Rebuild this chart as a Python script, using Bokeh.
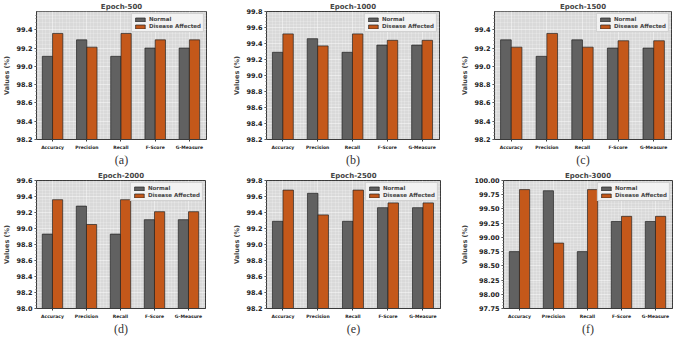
import numpy as np
from bokeh.plotting import figure
from bokeh.layouts import column, row
from bokeh.models import Range1d, FixedTicker, NumeralTickFormatter, Legend, LegendItem
from bokeh.embed import file_html
from bokeh.resources import INLINE

categories = ["Accuracy", "Precision", "Recall", "F-Score", "G-Measure"]
series_names = ["Normal", "Disease Affected"]

normal_500 = [99.11, 99.29, 99.11, 99.20, 99.20]
disease_500 = [99.36, 99.21, 99.36, 99.29, 99.29]
normal_1000 = [99.29, 99.46, 99.29, 99.38, 99.38]
disease_1000 = [99.52, 99.37, 99.52, 99.44, 99.44]
normal_1500 = [99.29, 99.11, 99.29, 99.20, 99.20]
disease_1500 = [99.21, 99.36, 99.21, 99.28, 99.28]
normal_2000 = [98.93, 99.28, 98.93, 99.11, 99.11]
disease_2000 = [99.36, 99.05, 99.36, 99.21, 99.21]
normal_2500 = [99.29, 99.64, 99.29, 99.46, 99.46]
disease_2500 = [99.68, 99.37, 99.68, 99.52, 99.52]
normal_3000 = [98.75, 99.82, 98.75, 99.28, 99.28]
disease_3000 = [99.84, 98.90, 99.84, 99.37, 99.37]

panel_titles = ["Epoch-500", "Epoch-1000", "Epoch-1500", "Epoch-2000", "Epoch-2500", "Epoch-3000"]
panel_letters = ["(a)", "(b)", "(c)", "(d)", "(e)", "(f)"]
y_limits = [(98.2, 99.6), (98.2, 99.8), (98.2, 99.6), (98.0, 99.6), (98.2, 99.8), (97.75, 100.0)]
y_steps = [0.2, 0.2, 0.2, 0.2, 0.2, 0.25]
y_formats = ["0.0", "0.0", "0.0", "0.0", "0.0", "0.00"]

normals = [normal_500, normal_1000, normal_1500, normal_2000, normal_2500, normal_3000]
diseases = [disease_500, disease_1000, disease_1500, disease_2000, disease_2500, disease_3000]

GRAY = "#616161"
ORANGE = "#c4581a"
FONT = "DejaVu Sans"

# layout: (width, min_border_left, min_border_right)
layout_params = [(230, 32, 24), (228, 33, 19), (226, 31, 13),
                 (230, 30, 25), (228, 30, 18), (226, 38, 12)]


def make_panel(i):
    w, bl, br = layout_params[i]
    lo, hi = y_limits[i]
    step = y_steps[i]
    xs = np.arange(len(categories))
    p = figure(width=w, height=169, output_backend="svg", toolbar_location=None,
               x_range=Range1d(-0.47, len(categories) - 0.5), y_range=Range1d(lo, hi),
               min_border=0, min_border_left=bl, min_border_right=br,
               min_border_top=0, min_border_bottom=0)
    p.title.text = panel_titles[i]
    p.title.align = "center"
    p.title.text_font = FONT
    p.title.text_font_size = "7px"
    p.title.text_font_style = "bold"
    p.title.standoff = 1
    p.title.offset = 0

    p.background_fill_color = "#d9d9d9"
    p.border_fill_color = "white"
    p.outline_line_color = "#3a3a3a"
    p.outline_line_width = 1

    n_major = int(round((hi - lo) / step))
    yt = [lo + k * step for k in range(n_major + 1)]
    ym = [lo + k * step / 5 for k in range(n_major * 5 + 1)]
    p.yaxis.ticker = FixedTicker(ticks=yt, minor_ticks=ym)
    p.yaxis.formatter = NumeralTickFormatter(format=y_formats[i])
    xm = [-0.5 + k * 0.1 for k in range(51)]
    p.xaxis.ticker = FixedTicker(ticks=list(xs), minor_ticks=xm)
    p.xaxis.major_label_overrides = {int(k): c for k, c in zip(xs, categories)}

    for ax in (p.xaxis, p.yaxis):
        ax.axis_line_color = "#3a3a3a"
        ax.major_tick_line_color = "#3a3a3a"
        ax.major_tick_out = 2
        ax.major_tick_in = 0
        ax.major_label_standoff = 2
        ax.major_label_text_font = FONT
        ax.major_label_text_font_style = "bold"
        ax.major_label_text_color = "#222222"
    p.xaxis.major_label_standoff = 1
    p.yaxis.minor_tick_line_color = "#777777"
    p.yaxis.minor_tick_out = 1
    p.yaxis.minor_tick_in = 0
    p.xaxis.minor_tick_line_color = None
    p.yaxis.major_label_text_font_size = "6.5px"
    p.xaxis.major_label_text_font_size = "4.5px"

    p.yaxis.axis_label = "Values (%)"
    p.yaxis.axis_label_text_font = FONT
    p.yaxis.axis_label_text_font_size = "6.5px"
    p.yaxis.axis_label_text_font_style = "bold"
    p.yaxis.axis_label_standoff = 2

    p.xaxis.axis_label = panel_letters[i]
    p.xaxis.axis_label_text_font = "Liberation Serif"
    p.xaxis.axis_label_text_font_size = "12px"
    p.xaxis.axis_label_text_font_style = "normal"
    p.xaxis.axis_label_text_color = "#333333"
    p.xaxis.axis_label_standoff = 0

    for g in (p.xgrid, p.ygrid):
        g.grid_line_color = "white"
        g.grid_line_alpha = 0.55
        g.grid_line_width = 0.6
        g.minor_grid_line_color = "white"
        g.minor_grid_line_alpha = 0.4
        g.minor_grid_line_width = 0.5

    r1 = p.vbar(x=xs - 0.15, top=normals[i], bottom=lo, width=0.3,
                fill_color=GRAY, line_color="#222222", line_width=0.7)
    r2 = p.vbar(x=xs + 0.15, top=diseases[i], bottom=lo, width=0.3,
                fill_color=ORANGE, line_color="#222222", line_width=0.7)

    legend = Legend(items=[LegendItem(label=series_names[0], renderers=[r1]),
                           LegendItem(label=series_names[1], renderers=[r2])],
                    location="top_right")
    legend.label_text_font = FONT
    legend.label_text_font_size = "5.5px"
    legend.label_text_font_style = "bold"
    legend.label_height = 5
    legend.glyph_height = 5
    legend.glyph_width = 12
    legend.spacing = 1
    legend.padding = 2
    legend.margin = 2
    legend.label_standoff = 3
    legend.background_fill_color = "#f4f4f4"
    legend.background_fill_alpha = 0.9
    legend.border_line_color = "#b0b0b0"
    p.add_layout(legend)
    return p


panels = [make_panel(i) for i in range(6)]
layout = column(row(*panels[:3]), row(*panels[3:]))

open("out.html", "w").write(file_html(layout, INLINE))
